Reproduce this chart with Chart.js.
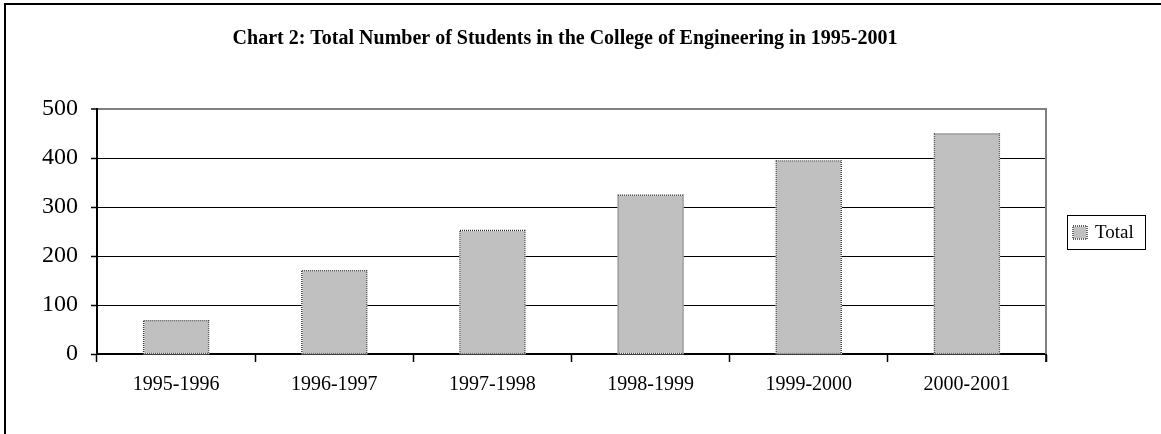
<!DOCTYPE html>
<html>
<head>
<meta charset="utf-8">
<title>Engineering enrolment</title>
<script src="https://cdn.jsdelivr.net/npm/chart.js@4/dist/chart.umd.min.js"></script>
<style>
  html, body { margin: 0; padding: 0; background: #fff; }
  #wrap { width: 1161px; height: 434px; }
</style>
</head>
<body>
<div id="wrap"><canvas id="students" width="1161" height="434"></canvas></div>
<script>
const YEARS  = ["1995-1996", "1996-1997", "1997-1998", "1998-1999", "1999-2000", "2000-2001"];
const TOTALS = [68, 170, 252, 324, 394, 449];
const SERIES_LABEL = "Total";
const CHART_TITLE  = "Chart 2: Total Number of Students in the College of Engineering in 1995-2001";
const Y_MIN = 0, Y_MAX = 500, Y_STEP = 100;

const SERIF    = "'Times New Roman', 'Liberation Serif', serif";
const BAR_FILL = "#c0c0c0";
const PLOT_EDGE = "#808080";

// dotted outline on a filled rectangle, white underneath so the gaps read light
function dottedRect(ctx, l, t, w, h) {
  ctx.save();
  ctx.lineWidth = 1.5;
  ctx.setLineDash([]);
  ctx.strokeStyle = "#ffffff";
  ctx.strokeRect(l, t, w, h);
  ctx.setLineDash([1, 1]);
  ctx.strokeStyle = "#333333";
  ctx.strokeRect(l, t, w, h);
  ctx.restore();
}

// outer page frame + grey right edge of the plot area
const framePlugin = {
  id: "frame",
  beforeDraw(chart) {
    const ctx = chart.ctx;
    ctx.save();
    ctx.strokeStyle = "#000";
    ctx.lineWidth = 2;
    ctx.strokeRect(5, 4, chart.width + 20, chart.height + 20);
    ctx.restore();
  },
  beforeDatasetsDraw(chart) {
    const { ctx, chartArea: a } = chart;
    ctx.save();
    ctx.strokeStyle = PLOT_EDGE;
    ctx.lineWidth = 2;
    ctx.beginPath();
    ctx.moveTo(a.right, a.top - 1);
    ctx.lineTo(a.right, a.bottom);
    ctx.stroke();
    // closing tick mark under the last category
    ctx.strokeStyle = "#000";
    ctx.lineWidth = 1.5;
    ctx.beginPath();
    ctx.moveTo(a.right, a.bottom);
    ctx.lineTo(a.right, a.bottom + 8);
    ctx.stroke();
    ctx.restore();
  }
};

// bar outlines and the boxed legend to the right of the plot
const barOutline = {
  id: "barOutline",
  afterDatasetsDraw(chart) {
    const ctx = chart.ctx;
    chart.getDatasetMeta(0).data.forEach((bar) => {
      const { x, y, base, width } = bar.getProps(["x", "y", "base", "width"], true);
      dottedRect(ctx, x - width / 2, y, width, base - y);
    });
  },
  afterDraw(chart) {
    const { ctx, chartArea: a } = chart;
    const ds = chart.data.datasets[0];
    const boxL = a.right + 21, boxW = 78, boxH = 34;
    const boxT = Math.round((a.top + a.bottom) / 2 - boxH / 2);
    ctx.save();
    ctx.strokeStyle = "#000";
    ctx.lineWidth = 1;
    ctx.strokeRect(boxL + 0.5, boxT + 0.5, boxW, boxH);
    ctx.fillStyle = ds.backgroundColor;
    ctx.fillRect(boxL + 6, boxT + 11, 14, 13);
    dottedRect(ctx, boxL + 6, boxT + 11, 14, 13);
    ctx.fillStyle = "#000";
    ctx.font = "19px " + SERIF;
    ctx.textBaseline = "alphabetic";
    ctx.fillText(ds.label, boxL + 28, boxT + 23);
    ctx.restore();
  }
};

new Chart(document.getElementById("students"), {
  type: "bar",
  data: {
    labels: YEARS,
    datasets: [{
      label: SERIES_LABEL,
      data: TOTALS,
      backgroundColor: BAR_FILL,
      borderWidth: 0,
      barPercentage: 0.41,
      categoryPercentage: 1
    }]
  },
  options: {
    responsive: false,
    animation: false,
    devicePixelRatio: 1,
    layout: { padding: { left: 0, right: 31, top: 0, bottom: 0 } },
    plugins: {
      legend: { display: false },
      tooltip: { enabled: false },
      title: {
        display: true,
        text: CHART_TITLE,
        color: "#000",
        font: { family: SERIF, size: 20, weight: "bold", lineHeight: 1.2 },
        padding: { top: 27, bottom: 58 }
      }
    },
    scales: {
      x: {
        afterFit: (s) => { s.height = 80; },
        grid: {
          offset: true,
          drawOnChartArea: false,
          drawTicks: true,
          tickLength: 8,
          tickColor: "#000",
          tickWidth: 1.5
        },
        border: { display: true, color: "#000", width: 2 },
        ticks: {
          color: "#000",
          padding: 11,
          maxRotation: 0,
          font: { family: SERIF, size: 20 }
        }
      },
      y: {
        min: Y_MIN,
        max: Y_MAX,
        afterFit: (s) => { s.width = 97; },
        grid: {
          color: (c) => c.tick.value === Y_MAX ? PLOT_EDGE : (c.tick.value === Y_MIN ? "rgba(0,0,0,0)" : "#000"),
          lineWidth: (c) => c.tick.value === Y_MAX ? 2 : 1,
          tickLength: 6,
          tickColor: "#000",
          tickWidth: 1.5
        },
        border: { display: true, color: "#000", width: 2 },
        ticks: {
          stepSize: Y_STEP,
          color: "#000",
          padding: 13,
          font: { family: SERIF, size: 24 }
        }
      },
      // empty right-hand band that holds the legend box
      legendBand: {
        position: "right",
        display: true,
        afterFit: (s) => { s.width = 84; },
        grid: { display: false, drawTicks: false },
        border: { display: false },
        ticks: { display: false }
      }
    }
  },
  plugins: [framePlugin, barOutline]
});
</script>
</body>
</html>
